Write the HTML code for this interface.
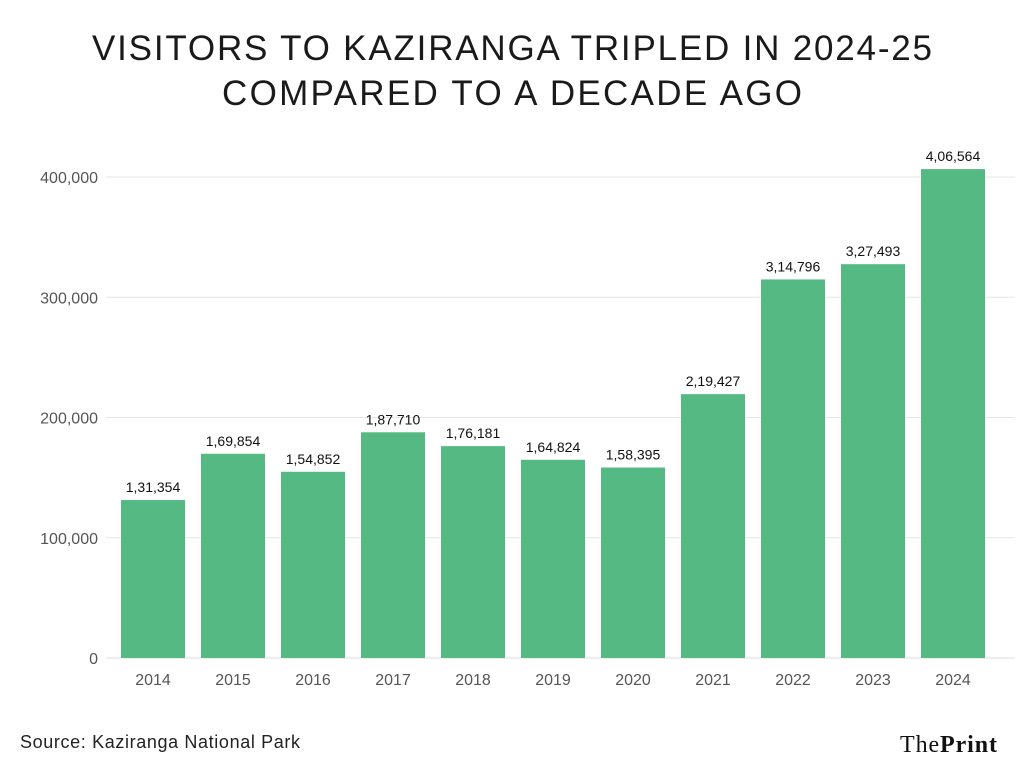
<!DOCTYPE html>
<html><head><meta charset="utf-8"><style>
body{margin:0;background:#fff;width:1024px;height:773px;overflow:hidden;font-family:"Liberation Sans",sans-serif;}
</style></head><body>
<svg id="chart" width="1024" height="773">
<text x="512" y="60" text-anchor="middle" font-size="35" fill="#1a1a1a" textLength="840">VISITORS TO KAZIRANGA TRIPLED IN 2024-25</text>
<text x="512" y="105" text-anchor="middle" font-size="35" fill="#1a1a1a" textLength="580">COMPARED TO A DECADE AGO</text>
<g id="grid"></g><g id="bars"></g>
<text x="20" y="748" font-size="18" fill="#222" textLength="280">Source: Kaziranga National Park</text>
<text x="997" y="752" text-anchor="end" font-family="Liberation Serif,serif" font-size="24" fill="#111" textLength="97">The<tspan font-weight="bold">Print</tspan></text>
</svg>
<script>
const categories=["2014","2015","2016","2017","2018","2019","2020","2021","2022","2023","2024"];
const values=[131354,169854,154852,187710,176181,164824,158395,219427,314796,327493,406564];
const valueLabels=["1,31,354","1,69,854","1,54,852","1,87,710","1,76,181","1,64,824","1,58,395","2,19,427","3,14,796","3,27,493","4,06,564"];
const ticks=[0,100000,200000,300000,400000];
const tickLabels=["0","100,000","200,000","300,000","400,000"];
const NS="http://www.w3.org/2000/svg";
const y0=658,ppu=481/400000,left=113,band=80,bw=64;
const y=v=>y0-v*ppu, x=i=>left+i*band+(band-bw)/2;
function mk(t,a,p,txt){const e=document.createElementNS(NS,t);for(const k in a)e.setAttribute(k,a[k]);if(txt!==undefined)e.textContent=txt;p.appendChild(e);return e;}
const g=document.getElementById('grid'),b=document.getElementById('bars');
ticks.forEach((t,i)=>{
 const l=mk('line',{x1:106,x2:1015,y1:y(t),y2:y(t),stroke:i==0?'#ddd':'#e6e6e6','stroke-width':1},g);
 
 
 const tx=mk('text',{x:98,y:y(t)+6,'text-anchor':'end','font-size':16,fill:'#555'},g,tickLabels[i]);
 
 
});
categories.forEach((c,i)=>{
 const r=mk('rect',{x:x(i),y:y(values[i]),width:bw,height:values[i]*ppu,fill:'#55b983'},b);
 
 
 const vl=mk('text',{x:x(i)+bw/2,y:y(values[i])-8,'text-anchor':'middle','font-size':14,fill:'#111'},b,valueLabels[i]);
 
 
 const xl=mk('text',{x:x(i)+bw/2,y:685,'text-anchor':'middle','font-size':16,fill:'#555'},b,c);
 
 
});
</script>
</body></html>
